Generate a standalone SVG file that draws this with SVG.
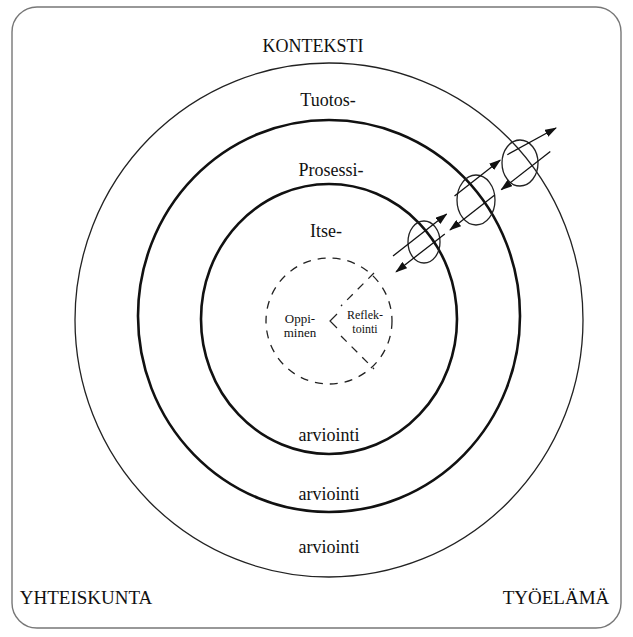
<svg xmlns="http://www.w3.org/2000/svg" width="633" height="637" viewBox="0 0 633 637">
<defs>
<style>
.thin{fill:none;stroke:#222;stroke-width:1.3}
.thick{fill:none;stroke:#111;stroke-width:2.6}
.dash{fill:none;stroke:#222;stroke-width:1.3;stroke-dasharray:8 7}
.arr{fill:none;stroke:#111;stroke-width:1.3;marker-end:url(#ah)}
</style>
<marker id="ah" viewBox="0 0 12 8" refX="11" refY="4" markerWidth="12" markerHeight="8" markerUnits="userSpaceOnUse" orient="auto">
<path d="M0,0 L12,4 L0,8 Z" fill="#111"/>
</marker>
</defs>
<rect width="633" height="637" fill="#fff"/>
<g id="frame">
<rect x="12" y="7" width="609" height="621" rx="25" ry="25" fill="none" stroke="#777" stroke-width="1.4"/>
<text x="313" y="52" font-family="Liberation Serif" font-size="18" text-anchor="middle" fill="#111">KONTEKSTI</text>
<text x="86" y="604" font-family="Liberation Serif" font-size="19" text-anchor="middle" fill="#111">YHTEISKUNTA</text>
<text x="556" y="604" font-family="Liberation Serif" font-size="19" text-anchor="middle" fill="#111">TYÖELÄMÄ</text>
</g>
<g id="tuotos">
<ellipse class="thin" cx="329" cy="320" rx="254" ry="257"/>
<text x="328" y="106" font-family="Liberation Serif" font-size="18" text-anchor="middle" fill="#111">Tuotos-</text>
<text x="329" y="553" font-family="Liberation Serif" font-size="18" text-anchor="middle" fill="#111">arviointi</text>
</g>
<g id="prosessi">
<ellipse class="thick" cx="329" cy="316" rx="191" ry="196"/>
<text x="331" y="176" font-family="Liberation Serif" font-size="18" text-anchor="middle" fill="#111">Prosessi-</text>
<text x="329" y="500" font-family="Liberation Serif" font-size="18" text-anchor="middle" fill="#111">arviointi</text>
</g>
<g id="itse">
<ellipse class="thick" cx="329" cy="319" rx="128" ry="135"/>
<text x="326" y="237" font-family="Liberation Serif" font-size="18" text-anchor="middle" fill="#111">Itse-</text>
<text x="329" y="441" font-family="Liberation Serif" font-size="18" text-anchor="middle" fill="#111">arviointi</text>
</g>
<g id="oppiminen">
<circle class="dash" cx="329" cy="321" r="63"/>
<path class="dash" d="M374,273 L341,306"/>
<path class="dash" d="M341,336 L374,369"/>
<path d="M337,314 L330,321 L337,328" fill="none" stroke="#222" stroke-width="1.2"/>
<text x="300" y="323" font-family="Liberation Serif" font-size="13" text-anchor="middle" fill="#111">Oppi-</text>
<text x="300" y="337" font-family="Liberation Serif" font-size="13" text-anchor="middle" fill="#111">minen</text>
<text x="365" y="319" font-family="Liberation Serif" font-size="12" text-anchor="middle" fill="#111">Reflek-</text>
<text x="365" y="333" font-family="Liberation Serif" font-size="12" text-anchor="middle" fill="#111">tointi</text>
</g>
<g id="connectors">
<ellipse class="thin" cx="424" cy="242" rx="16" ry="21"/>
<ellipse class="thin" cx="476" cy="200" rx="19" ry="25"/>
<ellipse class="thin" cx="520" cy="163" rx="18" ry="23"/>
<path class="arr" d="M393,256 L446.6,214.1"/>
<path class="arr" d="M454.5,195.9 L500.2,160.2"/>
<path class="arr" d="M507.3,154.7 L556,128"/>
<path class="arr" d="M444.8,233.9 L396.1,271.8"/>
<path class="arr" d="M494.4,195.2 L450,229.9"/>
<path class="arr" d="M550.3,151.4 L501.3,189.7"/>
</g>
</svg>
